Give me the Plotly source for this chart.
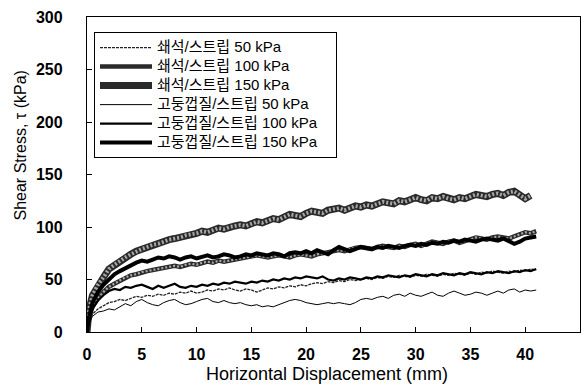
import plotly.graph_objects as go

# Horizontal displacement (mm)
x = [0, 0.2, 0.5, 1.0, 1.5, 2.0, 2.5, 3.0, 3.5, 4.0,
     4.5, 5.0, 5.5, 6.0, 6.5, 7.0, 7.5, 8.0, 8.5, 9.0,
     9.5, 10.0, 10.5, 11.0, 11.5, 12.0, 12.5, 13.0, 13.5, 14.0,
     14.5, 15.0, 15.5, 16.0, 16.5, 17.0, 17.5, 18.0, 18.5, 19.0,
     19.5, 20.0, 20.5, 21.0, 21.5, 22.0, 22.5, 23.0, 23.5, 24.0,
     24.5, 25.0, 25.5, 26.0, 26.5, 27.0, 27.5, 28.0, 28.5, 29.0,
     29.5, 30.0, 30.5, 31.0, 31.5, 32.0, 32.5, 33.0, 33.5, 34.0,
     34.5, 35.0, 35.5, 36.0, 36.5, 37.0, 37.5, 38.0, 38.5, 39.0,
     39.5, 40.0, 40.5, 41.0]

# Shear stress (kPa)
s50 = [0, 10, 17, 22, 25, 28, 29, 31, 30, 32,
       34, 33, 35, 34, 36, 35, 37, 36, 38, 37,
       39, 37, 38, 40, 39, 41, 40, 42, 40, 39,
       41, 40, 38, 40, 42, 41, 43, 42, 44, 43,
       45, 44, 46, 47, 46, 48, 47, 49, 48, 50,
       49, 50, 51, 50, 52, 51, 53, 52, 54, 53,
       52, 54, 53, 55, 54, 53, 55, 54, 56, 55,
       54, 56, 55, 57, 56, 58, 57, 56, 58, 57,
       59, 58, 60, 59]
s100 = [0, 14, 24, 32, 38, 43, 46, 49, 52, 54,
        55, 57, 58, 59, 60, 61, 62, 63, 62, 64,
        65, 64, 66, 67, 66, 68, 67, 68, 69, 70,
        71, 72, 73, 72, 71, 72, 73, 72, 71, 73,
        74, 73, 72, 74, 75, 76, 77, 78, 77, 79,
        80, 81, 80, 79, 81, 82, 81, 80, 82, 81,
        83, 84, 82, 84, 86, 85, 84, 86, 87, 85,
        87, 88, 90, 89, 88, 90, 91, 90, 89, 91,
        93, 95, 94, 96]
s150 = [0, 22, 35, 45, 52, 60, 64, 68, 71, 74,
        77, 79, 81, 83, 84, 86, 88, 89, 90, 92,
        93, 94, 96, 95, 97, 99, 98, 100, 101, 102,
        101, 103, 105, 104, 106, 108, 107, 110, 112, 111,
        110, 113, 115, 114, 113, 116, 117, 118, 116, 118,
        120, 119, 121, 120, 122, 124, 123, 122, 125, 124,
        126, 128, 126, 125, 128, 127, 129, 127, 126, 128,
        127, 129, 131, 130, 129, 131, 132, 130, 133, 134,
        131, 127, 130]
g50 = [0, 8, 15, 19, 20, 22, 21, 24, 27, 25,
       29, 31, 28, 26, 25, 28, 30, 31, 28, 26,
       27, 29, 31, 32, 29, 28, 30, 28, 27, 28,
       26, 25, 26, 24, 25, 24, 26, 28, 30, 31,
       30, 28, 27, 26, 27, 28, 27, 28, 27, 26,
       28, 31, 32, 31, 33, 34, 32, 35, 36, 34,
       37, 35, 34, 36, 38, 35, 34, 37, 39, 37,
       35, 36, 38, 37, 35, 37, 39, 37, 40, 41,
       38, 40, 39, 40]
g100 = [0, 12, 22, 30, 35, 39, 41, 40, 43, 42,
        44, 45, 43, 41, 44, 42, 44, 46, 43, 42,
        44, 43, 45, 44, 46, 45, 47, 46, 48, 47,
        46, 48, 47, 49, 48, 50, 49, 51, 50, 52,
        51, 53, 52, 51, 53, 50, 49, 51, 50, 52,
        51, 50, 52, 51, 53, 52, 54, 53, 52, 54,
        53, 55, 54, 53, 55, 54, 56, 55, 54, 56,
        55, 57, 56, 55, 57, 56, 58, 57, 56, 58,
        57, 59, 58, 60]
g150 = [0, 15, 28, 38, 45, 50, 55, 58, 61, 63,
        66, 68, 67, 69, 71, 70, 72, 71, 69, 71,
        72, 70, 72, 73, 71, 72, 74, 73, 71, 72,
        74, 73, 75, 74, 73, 75, 74, 72, 75, 76,
        75, 77, 75, 78, 76, 74, 78, 81, 79, 77,
        79, 81, 80, 79, 81, 80, 82, 81, 80, 82,
        83, 82, 84, 83, 85, 84, 86, 85, 87, 86,
        88, 87, 86, 88, 89, 88, 87, 89, 86, 84,
        86, 89, 90, 91]

names = ["쇄석/스트립 50 kPa", "쇄석/스트립 100 kPa", "쇄석/스트립 150 kPa",
         "고둥껍질/스트립 50 kPa", "고둥껍질/스트립 100 kPa", "고둥껍질/스트립 150 kPa"]

x_ticks = [0, 5, 10, 15, 20, 25, 30, 35, 40, 45]
y_ticks = [0, 50, 100, 150, 200, 250, 300]

fig = go.Figure()

def add(y, name, group, color, width, dash="solid", overlay=None):
    xs = x[:len(y)]
    label = '<span style="font-size:15px">' + name + '</span>&nbsp;&nbsp;&nbsp;&nbsp;'
    fig.add_trace(go.Scatter(x=xs, y=y, mode="lines", name=label, legendgroup=group,
                             line=dict(color=color, width=width, dash=dash)))
    if overlay:
        oc, ow, od = overlay
        fig.add_trace(go.Scatter(x=xs, y=y, mode="lines", legendgroup=group, showlegend=False,
                                 hoverinfo="skip", line=dict(color=oc, width=ow, dash=od)))

add(s50, names[0], "a", "#222222", 1.3, "3px,1px")
add(s100, names[1], "b", "#2a2a2a", 4.5, "solid", ("#a8a8a8", 2.2, "2px,2px"))
add(s150, names[2], "c", "#2a2a2a", 7, "solid", ("#a8a8a8", 3.8, "2px,2px"))
add(g50, names[3], "d", "#000000", 1)
add(g100, names[4], "e", "#000000", 2.2)
add(g150, names[5], "f", "#000000", 4)

tickfont = dict(family="Liberation Sans, Arial", size=16, color="black", weight="bold")

fig.update_layout(
    width=586, height=392,
    margin=dict(l=87, r=6, t=17, b=60),
    plot_bgcolor="white", paper_bgcolor="white",
    showlegend=True,
    legend=dict(x=0.0142, y=0.952, xanchor="left", yanchor="top",
                bordercolor="black", borderwidth=1, bgcolor="white",
                font=dict(family="Liberation Sans, Noto Sans CJK KR", size=12, color="black"),
                tracegroupgap=0, itemwidth=52),
    xaxis=dict(range=[0, 45], tickvals=x_ticks, ticks="inside", ticklen=5, tickcolor="black",
               showline=True, linecolor="black", linewidth=1.3, mirror=True,
               showgrid=False, zeroline=False, tickfont=tickfont, ticklabelstandoff=8),
    yaxis=dict(range=[0, 300], tickvals=y_ticks, ticks="inside", ticklen=5, tickcolor="black",
               showline=True, linecolor="black", linewidth=1.3, mirror=True,
               showgrid=False, zeroline=False, tickfont=tickfont, ticklabelstandoff=20),
    annotations=[
        dict(text="Horizontal Displacement (mm)", xref="paper", yref="paper",
             x=(327 - 87) / 493, y=(331.5 - 373) / 315, showarrow=False,
             xanchor="center", yanchor="middle",
             font=dict(family="Liberation Sans, Arial", size=18, color="black")),
        dict(text="Shear Stress, τ (kPa)", xref="paper", yref="paper",
             x=(20 - 87) / 493, y=(331.5 - 145) / 315, showarrow=False, textangle=-90,
             xanchor="center", yanchor="middle",
             font=dict(family="Liberation Sans, Arial", size=16, color="black")),
    ],
)

fig.write_html("out.html")
